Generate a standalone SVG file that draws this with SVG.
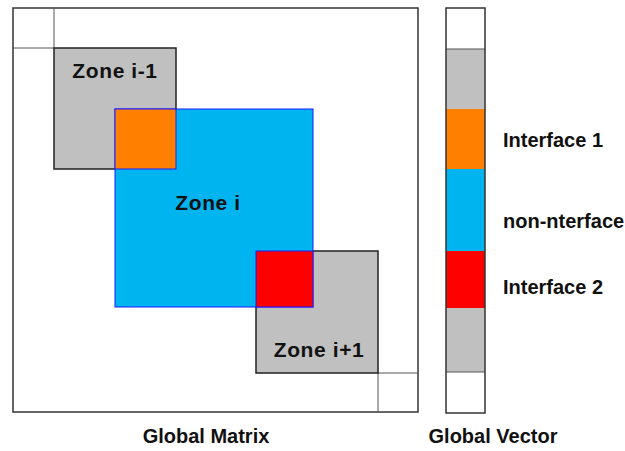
<svg xmlns="http://www.w3.org/2000/svg" width="625" height="451" viewBox="0 0 625 451">
<style>
.frame{fill:none;stroke:#333;stroke-width:1.5}
.thin{fill:none;stroke:#555;stroke-width:1}
.gray{fill:#c0c0c0;stroke:#222;stroke-width:1.5}
.lbl{font-family:"Liberation Sans",Arial,sans-serif;font-weight:bold;font-size:20px;fill:#111}
.zl{font-size:21px;letter-spacing:0.6px}
</style>
<rect width="625" height="451" fill="#fff"/>
<g id="global-matrix">
<rect class="frame" x="13" y="8" width="405" height="404"/>
<line class="thin" x1="54" y1="8" x2="54" y2="48"/>
<line class="thin" x1="13" y1="48" x2="54" y2="48"/>
<line class="thin" x1="378" y1="373" x2="378" y2="412"/>
<line class="thin" x1="378" y1="373" x2="418" y2="373"/>
</g>
<g id="zone-i-minus-1">
<rect class="gray" x="54" y="48" width="122" height="121"/>
<text class="lbl zl" x="115" y="78" text-anchor="middle">Zone i-1</text>
</g>
<g id="zone-i-plus-1">
<rect class="gray" x="256" y="251" width="122" height="122"/>
<text class="lbl zl" x="319" y="357" text-anchor="middle">Zone i+1</text>
</g>
<g id="zone-i">
<rect x="115" y="109" width="198" height="198" fill="#00b4f0" stroke="#1a1aff" stroke-width="1"/>
<rect x="115" y="109" width="61" height="60" fill="#ff8000" stroke="#1a1aff" stroke-width="1"/>
<rect x="256" y="251" width="57" height="56" fill="#ff0000" stroke="#1a1aff" stroke-width="1"/>
<text class="lbl zl" x="208" y="210" text-anchor="middle">Zone i</text>
</g>
<g id="global-vector">
<rect x="446" y="49" width="39" height="60" fill="#c0c0c0"/>
<rect x="446" y="109" width="39" height="60" fill="#ff8000"/>
<rect x="446" y="169" width="39" height="82" fill="#00b4f0"/>
<rect x="446" y="251" width="39" height="57" fill="#ff0000"/>
<rect x="446" y="308" width="39" height="64" fill="#c0c0c0"/>
<line class="thin" x1="446" y1="49" x2="485" y2="49" stroke="#66f"/>
<line class="thin" x1="446" y1="372" x2="485" y2="372"/>
<rect class="frame" x="446" y="8" width="39" height="405"/>
</g>
<g id="legend">
<text class="lbl" x="503" y="147">Interface 1</text>
<text class="lbl" x="503" y="228">non-nterface</text>
<text class="lbl" x="503" y="294">Interface 2</text>
</g>
<g id="captions">
<text class="lbl" x="206" y="443" text-anchor="middle">Global Matrix</text>
<text class="lbl" x="493" y="443" text-anchor="middle">Global Vector</text>
</g>
<g id="connectors"/>
</svg>
